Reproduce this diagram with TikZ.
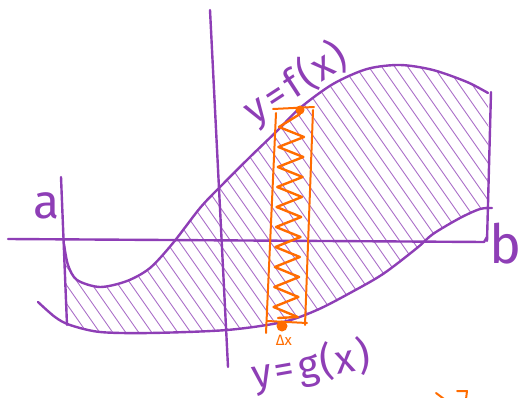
\documentclass[tikz,border=0pt]{standalone}
\usepackage{fontspec}
\setmainfont{Fira Sans}
\usepackage{tikz}
\usetikzlibrary{positioning,calc}
\definecolor{sketchpurple}{RGB}{142,62,182}
\definecolor{sketchorange}{RGB}{255,108,0}

\begin{document}
\begin{tikzpicture}[x=1pt,y=-1pt,
  pen/.style={sketchpurple, line width=2.4pt, line cap=round, line join=round},
  hatch/.style={sketchpurple!75, line width=0.9pt, line cap=round},
  marker/.style={sketchorange, line width=2pt, line cap=round, line join=round}]
  \useasboundingbox (0,0) rectangle (521,398);

  % hatching between the curves
  \begin{scope}
    \clip plot[smooth] coordinates {(63,244) (68,265) (77,280) (100,287) (127,281) (150,268) (173,243) (200,208) (220,187) (250,157) (277,131) (300,108) (333,84) (367,69) (400,65) (433,70) (467,82) (488,93)}
      -- (489,208)
      -- plot[smooth] coordinates {(480,209) (460,218) (433,234) (417,248) (383,274) (350,293) (317,310) (283,322) (227,330) (150,333) (100,332) (67,325)}
      -- cycle;
    \foreach \i in {-300,-287,...,500}
      \draw[hatch] (\i,40) -- +(245,350);
  \end{scope}

  % axes
  \draw[pen] (8,239) -- (484,242) -- (487,237);
  \draw[pen] (210,10) -- (228,367);

  % bounds a and b
  \draw[pen] (61,177) -- (67,325);
  \draw[pen] (491,92) -- (487,241);

  % upper curve y=f(x)
  \draw[pen] plot[smooth] coordinates {(64,244) (68,265) (77,280) (100,287) (127,281) (150,268) (173,243) (200,208) (220,187) (250,157) (277,131) (300,108) (333,84) (367,69) (400,65) (433,70) (467,82) (488,93)};

  % lower curve y=g(x)
  \draw[pen] plot[smooth] coordinates {(38,302) (55,317) (70,325) (100,332) (150,333) (227,330) (283,322) (317,310) (350,293) (383,274) (417,248) (433,234) (460,218) (480,209) (492,208)};

  % strip of width dx
  \draw[marker] (273,109) -- (314,107);
  \draw[marker] (276,113) -- (266,333);
  \draw[marker] (313,110) -- (305,325);
  \draw[marker] (267,321) -- (307,323);
  \draw[marker, line width=2.4pt] (300,114)
    \foreach \k in {0,...,9} { -- (279-\k*0.6,127+\k*20) -- (304-\k*0.7,137+\k*20) } -- (278,318);
  \fill[sketchorange] (300,110) circle (4.5);
  \fill[sketchorange] (282,326) circle (5.5);

  % labels
  \node[sketchpurple, rotate=33, font=\fontsize{40}{44}\selectfont] (flabel) at (296,84)
    {y\kern4pt=\kern4pt f\kern3pt(\kern2pt x\kern3pt)};
  \node[sketchpurple, rotate=10, font=\fontsize{40}{44}\selectfont] (glabel) at (311,366)
    {y\kern3pt=\kern4pt g\kern2pt(\kern2pt x\kern3pt)};
  \node[sketchpurple, font=\fontsize{48}{52}\selectfont] (alabel) at (47,206) {a};
  \node[sketchpurple, font=\fontsize{54}{58}\selectfont] (blabel) at (506,244) {b};
  \node[sketchorange, font=\fontsize{15}{17}\selectfont] (dxlabel) at (284,340) {Δx};

  % scribble cut off at the bottom
  \draw[marker] (436,393) -- (444,399);
  \draw[marker] (457,391) -- (467,391) -- (466,399);
\end{tikzpicture}
\end{document}
